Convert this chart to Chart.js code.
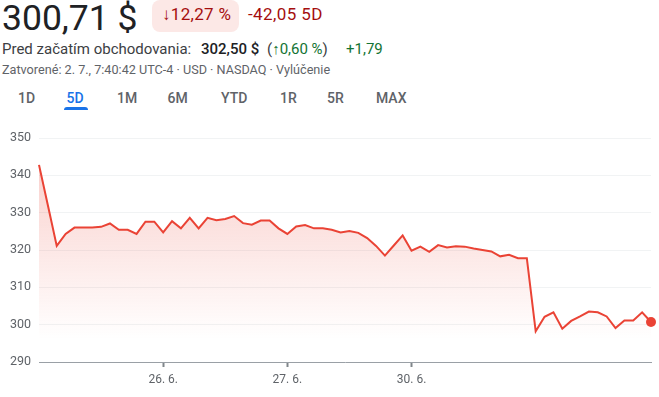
<!DOCTYPE html>
<html lang="sk">
<head>
    <meta charset="UTF-8">
    <title>Graf 5D</title>
    <script src="https://cdn.jsdelivr.net/npm/chart.js"></script>
    <style>
        body { margin: 0; width: 659px; height: 397px; overflow: hidden; background: #fff; font-family: Roboto, Arial, sans-serif; position: relative; }
        .abs { position: absolute; white-space: nowrap; }
        #price { left: 2px; top: 0; font-size: 35.5px; line-height: 36px; color: #202124; }
        #badge { left: 152px; top: 0; width: 87px; height: 32px; border-radius: 8px; background: #fce8e6; }
        #pct { left: 162px; top: 6px; font-size: 17px; line-height: 17px; color: #a50e0e; letter-spacing: 0.3px; }
        #chg { left: 248px; top: 6px; font-size: 17px; line-height: 17px; color: #a50e0e; letter-spacing: 0.4px; }
        .l2 { top: 42px; font-size: 15px; line-height: 15px; color: #3c4043; }
        .l2.b { font-weight: 500; color: #202124; }
        .l2.g { color: #137333; }
        #closed { left: 2px; top: 63.5px; font-size: 12.65px; line-height: 12.4px; color: #5f6368; }
        .tab { top: 91px; font-size: 14px; line-height: 14px; font-weight: 500; color: #5f6368; }
        .tab.on { color: #1a73e8; }
        #underline { left: 64px; top: 107px; width: 24px; height: 3px; background: #1a73e8; border-radius: 3px 3px 0 0; }
        #wrap { position: absolute; left: 0; top: 120px; width: 659px; height: 277px; }
    </style>
    <script>
        // obchodné dni a 30-min body (9:30 - 16:00)
        const days = ["25. 6.", "26. 6.", "27. 6.", "30. 6.", "1. 7."];
        const shownDays = ["26. 6.", "27. 6.", "30. 6."];
        const times = ["9:30", "10:00", "10:30", "11:00", "11:30", "12:00", "12:30",
                       "13:00", "13:30", "14:00", "14:30", "15:00", "15:30", "16:00"];
        const prices = [
            342.8, 332.0, 321.1, 324.3, 326.0, 326.0, 326.0, 326.2, 327.1, 325.4, 325.4, 324.3, 327.6, 327.6,
            324.7, 327.7, 325.8, 328.6, 325.8, 328.6, 328.0, 328.3, 329.1, 327.2, 326.8, 327.9, 327.9, 325.8,
            324.3, 326.3, 326.7, 325.8, 325.8, 325.4, 324.7, 325.1, 324.6, 323.2, 321.1, 318.5, 321.2, 323.9,
            319.8, 320.9, 319.5, 321.3, 320.7, 321.0, 320.9, 320.4, 320.0, 319.6, 318.3, 318.7, 317.8, 317.8,
            298.2, 302.1, 303.3, 298.9, 301.0, 302.2, 303.5, 303.3, 302.2, 299.1, 301.1, 301.1, 303.3, 300.71
        ];
        const yTicks = [290, 300, 310, 320, 330, 340, 350];
        const tabs = [["1D", 18], ["5D", 66.5], ["1M", 117], ["6M", 167.5], ["YTD", 221], ["1R", 280], ["5R", 327], ["MAX", 376]];

        const labels = days.flatMap(d => times.map(t => d + " " + t));

        window.onload = function() {
            tabs.forEach(([t, x]) => {
                const s = document.createElement("span");
                s.className = "abs tab" + (t === "5D" ? " on" : "");
                s.style.left = x + "px";
                s.textContent = t;
                document.body.appendChild(s);
            });

            const red = "#ea4335";
            const last = prices.length - 1;
            const ctx = document.getElementById("chart").getContext("2d");
            new Chart(ctx, {
                type: "line",
                data: {
                    labels: labels,
                    datasets: [{
                        data: prices,
                        borderColor: red,
                        borderWidth: 2,
                        tension: 0,
                        clip: false,
                        fill: "start",
                        backgroundColor: function(c) {
                            const a = c.chart.chartArea;
                            const ys = c.chart.scales.y;
                            if (!a || !ys) return "rgba(234,67,53,0.1)";
                            const g = c.chart.ctx.createLinearGradient(0, ys.getPixelForValue(342), 0, ys.getPixelForValue(296));
                            g.addColorStop(0, "rgba(234,67,53,0.24)");
                            g.addColorStop(1, "rgba(234,67,53,0)");
                            return g;
                        },
                        pointRadius: c => c.dataIndex === last ? 5 : 0,
                        pointHoverRadius: 0,
                        pointBackgroundColor: red,
                        pointBorderWidth: 0
                    }]
                },
                options: {
                    responsive: false,
                    animation: false,
                    events: [],
                    layout: { padding: { top: 18, right: 8, left: 0, bottom: 0 } },
                    plugins: { legend: { display: false }, tooltip: { enabled: false } },
                    scales: {
                        x: {
                            type: "category",
                            offset: false,
                            border: { display: true, color: "#9aa0a6", width: 1 },
                            grid: { drawOnChartArea: false, drawTicks: true, tickLength: 5, tickWidth: 2, tickColor: "#80868b" },
                            ticks: {
                                autoSkip: false, maxRotation: 0, padding: 6,
                                color: "#5f6368", font: { family: "Roboto", size: 12 },
                                callback: function(v, i) {
                                    if (i % times.length !== 0) return null;
                                    const d = days[i / times.length];
                                    return shownDays.includes(d) ? d : null;
                                }
                            },
                            afterFit: s => { s.height = 35; }
                        },
                        y: {
                            min: yTicks[0], max: yTicks[yTicks.length - 1],
                            border: { display: false },
                            grid: { color: "#f1f3f4", drawTicks: false },
                            afterBuildTicks: s => { s.ticks = yTicks.map(v => ({ value: v })); },
                            ticks: { padding: 8, color: "#5f6368", font: { family: "Roboto", size: 12.5 } },
                            afterFit: s => { s.width = 39; }
                        }
                    }
                }
            });
        };
    </script>
</head>
<body>
    <div class="abs" id="price">300,71 $</div>
    <div class="abs" id="badge"></div>
    <div class="abs" id="pct">↓12,27 %</div>
    <div class="abs" id="chg">-42,05 5D</div>
    <div class="abs l2" style="left:2px">Pred začatím obchodovania:</div>
    <div class="abs l2 b" style="left:201px">302,50 $</div>
    <div class="abs l2" style="left:267px">(<span style="color:#137333">↑0,60 %</span>)</div>
    <div class="abs l2 g" style="left:346px">+1,79</div>
    <div class="abs" id="closed">Zatvorené: 2. 7., 7:40:42 UTC-4 · USD · NASDAQ · Vylúčenie</div>
    <div class="abs" id="underline"></div>
    <div id="wrap"><canvas id="chart" width="659" height="277"></canvas></div>
</body>
</html>
